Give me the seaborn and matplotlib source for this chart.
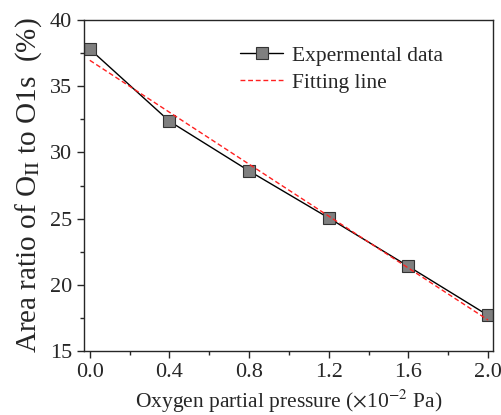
import numpy as np
import pandas as pd
import matplotlib.pyplot as plt
import seaborn as sns
from matplotlib.ticker import MultipleLocator

# Data
pressure = [0.0, 0.4, 0.8, 1.2, 1.6, 2.0]
area_ratio = [37.8, 32.35, 28.6, 25.05, 21.4, 17.7]
fit_x = [0.0, 2.0]
fit_y = [36.95, 17.35]

sns.set_style('ticks')
plt.rcParams['font.family'] = ['Liberation Serif', 'DejaVu Serif']
plt.rcParams['mathtext.fontset'] = 'stix'

df = pd.DataFrame({'x': pressure, 'y': area_ratio})
fit_df = pd.DataFrame({'x': fit_x, 'y': fit_y})

fig, ax = plt.subplots(figsize=(5.02, 4.15), dpi=100)
fig.subplots_adjust(left=0.167, right=0.982, top=0.952, bottom=0.154)

sns.lineplot(data=df, x='x', y='y', ax=ax, color='black', lw=1.0,
             marker='s', markersize=9, markerfacecolor='#7f7f7f',
             markeredgecolor='#333333', markeredgewidth=0.8,
             label='Expermental data')
sns.lineplot(data=fit_df, x='x', y='y', ax=ax, color='#ff2020', lw=1.0,
             linestyle=(0, (3.5, 2)), label='Fitting line')

ax.set_xlim(-0.03, 2.025)
ax.set_ylim(15, 40)
ax.xaxis.set_major_locator(MultipleLocator(0.4))
ax.xaxis.set_minor_locator(MultipleLocator(0.2))
ax.yaxis.set_major_locator(MultipleLocator(5))
ax.yaxis.set_minor_locator(MultipleLocator(2.5))
ax.xaxis.set_major_formatter(plt.FormatStrFormatter('%.1f'))
ax.tick_params(which='major', direction='out', length=5, width=1, labelsize=16)
ax.tick_params(which='minor', direction='out', length=3, width=1)
for s in ax.spines.values():
    s.set_linewidth(1.0)

ax.set_xlabel(r'Oxygen partial pressure ($\times$10$^{-2}$ Pa)', fontsize=15.5)
ax.set_ylabel(r'Area ratio of O$_{\rm II}$ to O1s  (%)', fontsize=21)

ax.legend(loc='upper left', bbox_to_anchor=(0.335, 0.98), frameon=False,
          fontsize=15.5, handlelength=2.0, handletextpad=0.4, labelspacing=0.3)

fig.savefig('out.png', dpi=100)
